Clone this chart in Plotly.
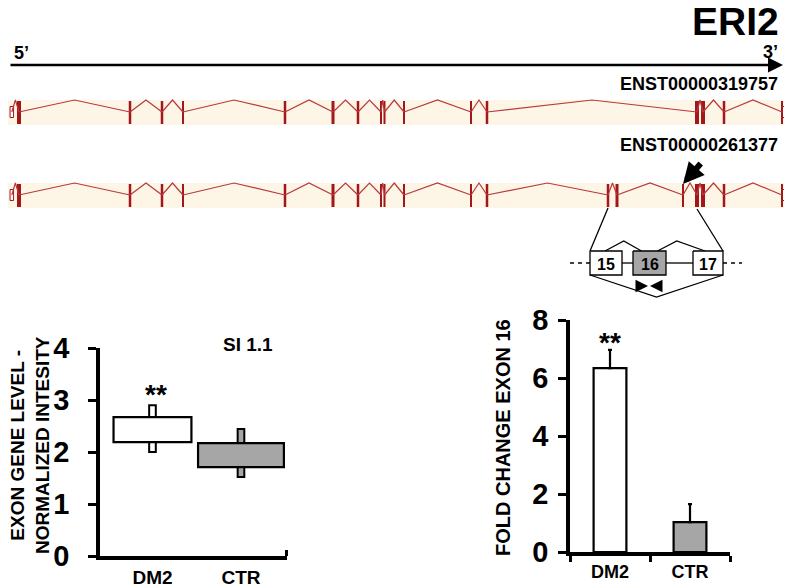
import plotly.graph_objects as go

REF_W, REF_H = 792, 587
OFF = 8                       # page body margin of the viewer
W, H = REF_W - OFF, REF_H - OFF
FONT = "Liberation Sans, Arial, Helvetica, sans-serif"

# ---------------- data ----------------
gene_name = "ERI2"
tx_names = ["ENST00000319757", "ENST00000261377"]

# exon positions along the gene (diagram units, 5' -> 3') and exon lengths
tx1_exon_pos = [11.8, 19, 130, 162, 183, 285, 333, 358, 381, 384.5, 404, 471, 487,
                697, 703, 724, 782, 784]
tx1_exon_len = [3.5, 4, 2.5, 2.5, 2, 2.5, 3, 2.5, 2, 2, 2, 2, 2.5,
                4, 4, 2.5, 1.5, 3]
tx1_exon_utr = [True] + [False] * 16 + [True]

tx2_exon_pos = [11.8, 19, 130, 162, 183, 285, 333, 358, 381, 384.5, 404, 471, 487,
                608, 617, 683, 697, 703, 724, 782, 784]
tx2_exon_len = [3.5, 4, 2.5, 2.5, 2, 2.5, 3, 2.5, 2, 2, 2, 2, 2.5,
                2.5, 3, 1.5, 4, 4, 2.5, 1.5, 3]
tx2_exon_utr = [True] + [False] * 19 + [True]

# inset: exons 15-16-17 of the alternative event
inset_labels = ["15", "16", "17"]
inset_box_left = [590, 633, 693]
inset_box_right = [622, 666, 723]
inset_box_skipped = [False, True, False]

# microarray exon level (SI 1.1)
groups = ["DM2", "CTR"]
si_box_low = [2.19, 1.71]
si_box_high = [2.67, 2.17]
si_whisker_low = [2.00, 1.52]
si_whisker_high = [2.90, 2.44]

# qPCR fold change exon 16
fold_mean = [6.34, 1.03]
fold_err = [0.63, 0.62]

# ---------------- styles ----------------
EXON_COL = "#A3171B"
INTRON_COL = "#B8393C"
BAND_COL = "#FDF5E6"
GREY = "#A6A6A6"

fig = go.Figure()

# ---------- gene diagram (axis x / y : diagram units) ----------
tracks = [
    (tx1_exon_pos, tx1_exon_len, tx1_exon_utr, 100, 125),
    (tx2_exon_pos, tx2_exon_len, tx2_exon_utr, 183, 208),
]
shapes = []
for pos, ln, utr, top, bot in tracks:
    mid = (top + bot) / 2 - 0.5
    shapes.append(dict(type="rect", xref="x", yref="y", x0=7, x1=787, y0=top, y1=bot,
                       fillcolor=BAND_COL, line_width=0, layer="below"))
    # introns
    ix, iy = [], []
    for i in range(len(pos) - 1):
        if pos[i + 1] - pos[i] < 2.5:
            continue
        ix += [pos[i], (pos[i] + pos[i + 1]) / 2, pos[i + 1], None]
        iy += [mid, top, mid, None]
    fig.add_trace(go.Scatter(x=ix, y=iy, mode="lines", line=dict(color=INTRON_COL, width=1.2),
                             hoverinfo="skip", showlegend=False))
    cx = [p for p, u in zip(pos, utr) if not u]
    cw = [w for w, u in zip(ln, utr) if not u]
    fig.add_trace(go.Bar(x=cx, y=[bot - top - 2] * len(cx), base=[top + 1] * len(cx), width=cw,
                         marker=dict(color=EXON_COL, line_width=0), showlegend=False,
                         hoverinfo="skip"))
    ux = [p for p, u in zip(pos, utr) if u]
    uw = [w for w, u in zip(ln, utr) if u]
    fig.add_trace(go.Bar(x=ux, y=[11] * len(ux), base=[mid - 5.5] * len(ux), width=uw,
                         marker=dict(color="white", line=dict(color=EXON_COL, width=1)),
                         showlegend=False, hoverinfo="skip"))

# zoom lines from transcript 2 to the inset
fig.add_trace(go.Scatter(x=[tx2_exon_pos[13], inset_box_left[0], None, tx2_exon_pos[16], inset_box_right[2]],
                         y=[208, 251, None, 209, 251], mode="lines",
                         line=dict(color="black", width=1.3), showlegend=False, hoverinfo="skip"))
# inset backbone
fig.add_trace(go.Scatter(x=[570, inset_box_left[0], None, inset_box_right[2], 742],
                         y=[263, 263, None, 263, 263], mode="lines",
                         line=dict(color="black", width=1.3, dash="4px,4px"), showlegend=False, hoverinfo="skip"))
fig.add_trace(go.Scatter(x=[inset_box_right[0], inset_box_left[1], None, inset_box_right[1], inset_box_left[2]],
                         y=[263, 263, None, 263, 263], mode="lines",
                         line=dict(color="black", width=1.3), showlegend=False, hoverinfo="skip"))
# splice junctions
c = [(l + r) / 2 for l, r in zip(inset_box_left, inset_box_right)]
fig.add_trace(go.Scatter(
    x=[c[0] - 1, (c[0] + c[1]) / 2 - 4, c[1] - 8, None, c[1] + 8, (c[1] + c[2]) / 2 - 2, c[2] - 3, None,
       inset_box_left[0], (inset_box_left[0] + inset_box_right[2]) / 2, inset_box_right[2]],
    y=[251, 241, 251, None, 251, 241, 251, None, 275, 297, 275],
    mode="lines", line=dict(color="black", width=1.3), showlegend=False, hoverinfo="skip"))
# inset boxes
for l, r, s, lab in zip(inset_box_left, inset_box_right, inset_box_skipped, inset_labels):
    fig.add_trace(go.Scatter(x=[l, r, r, l, l], y=[251, 251, 275, 275, 251], mode="lines",
                             fill="toself", fillcolor=GREY if s else "white",
                             line=dict(color="black", width=1.3), showlegend=False, hoverinfo="skip"))

# ---------- left chart: exon gene level ----------
xpos = [0, 1]
fig.add_trace(go.Bar(x=xpos, y=[h - l for l, h in zip(si_whisker_low, si_whisker_high)],
                     base=si_whisker_low, width=0.075,
                     marker=dict(color=["white", GREY], line=dict(color="black", width=2)),
                     xaxis="x2", yaxis="y2", showlegend=False, hoverinfo="skip"))
fig.add_trace(go.Bar(x=[0, 1.0], y=[h - l for l, h in zip(si_box_low, si_box_high)],
                     base=si_box_low, width=[0.88, 0.97],
                     marker=dict(color=["white", GREY], line=dict(color="black", width=2.2)),
                     xaxis="x2", yaxis="y2", showlegend=False, hoverinfo="skip"))

# ---------- right chart: fold change ----------
fig.add_trace(go.Bar(x=groups, y=fold_mean, width=0.41,
                     marker=dict(color=["white", GREY], line=dict(color="black", width=2.2)),
                     error_y=dict(type="data", array=fold_err, arrayminus=[0, 0], symmetric=False,
                                  color="black", thickness=2.2, width=2),
                     xaxis="x3", yaxis="y3", showlegend=False, hoverinfo="skip"))


def px(x):
    return (x - OFF) / W


def py(y):
    return 1 - (y - OFF) / H


def txt(text, x, y, size, xanchor="center", yanchor="middle", angle=0):
    return dict(text=text, x=px(x), y=py(y), xref="paper", yref="paper", xanchor=xanchor,
                yanchor=yanchor, textangle=angle, showarrow=False, align="center",
                font=dict(size=size, family=FONT, weight="bold", color="black"))


ann = []
ann.append(txt(gene_name, 781, 21, 39, xanchor="right"))
ann.append(txt("5’", 12, 53, 18, xanchor="left"))
ann.append(txt("3’", 780, 52, 18, xanchor="right"))
ann.append(txt(tx_names[0], 780, 84, 18, xanchor="right"))
ann.append(txt(tx_names[1], 780, 145, 18, xanchor="right"))
# 5' -> 3' arrow
ann.append(dict(x=783, y=65, ax=9, ay=65, xref="x", yref="y", axref="x", ayref="y", text="",
                showarrow=True, arrowhead=2, arrowsize=1.2, arrowwidth=2.5, arrowcolor="black"))
# pointer arrow to exon 16
ann.append(dict(x=683, y=184, ax=702, ay=162, xref="x", yref="y", axref="x", ayref="y", text="",
                showarrow=True, arrowhead=2, arrowsize=0.7, arrowwidth=6, arrowcolor="black"))
# primer arrows
ann.append(dict(x=648, y=286, ax=636, ay=286, xref="x", yref="y", axref="x", ayref="y", text="",
                showarrow=True, arrowhead=2, arrowsize=1, arrowwidth=2.5, arrowcolor="black"))
ann.append(dict(x=650, y=286, ax=662, ay=286, xref="x", yref="y", axref="x", ayref="y", text="",
                showarrow=True, arrowhead=2, arrowsize=1, arrowwidth=2.5, arrowcolor="black"))
# inset labels
for l, r, lab in zip(inset_box_left, inset_box_right, inset_labels):
    ann.append(dict(text=lab, x=(l + r) / 2, y=264, xref="x", yref="y", showarrow=False,
                    font=dict(size=16, family=FONT, weight="bold", color="black")))
# left chart annotations
ann.append(txt("SI 1.1", 248, 344, 19))
ann.append(dict(text="**", x=0.04, y=3.1, xref="x2", yref="y2", showarrow=False,
                font=dict(size=28, family=FONT, weight="bold", color="black")))
ann.append(txt("EXON GENE LEVEL -<br>NORMALIZED INTESITY", 30, 445, 19, angle=-90))
# right chart annotations
ann.append(dict(text="**", x="DM2", y=7.22, xref="x3", yref="y3", showarrow=False,
                font=dict(size=28, family=FONT, weight="bold", color="black")))
ann.append(txt("FOLD CHANGE EXON 16", 503, 438, 20, angle=-90))

axis_common = dict(showline=True, linecolor="black", linewidth=3.5, showgrid=False, zeroline=False,
                   ticks="outside", tickcolor="black", tickwidth=3, ticklen=8, automargin=False)

fig.update_layout(
    width=W, height=H, margin=dict(l=0, r=0, t=0, b=0, pad=0, autoexpand=False),
    paper_bgcolor="white", plot_bgcolor="rgba(0,0,0,0)",
    barmode="overlay", showlegend=False,
    font=dict(family=FONT, color="black"),
    shapes=shapes, annotations=ann,
    xaxis=dict(domain=[0, 1], range=[OFF, REF_W], visible=False, fixedrange=True, automargin=False),
    yaxis=dict(domain=[0, 1], range=[REF_H, OFF], visible=False, fixedrange=True, automargin=False),
    xaxis2=dict(domain=[px(100), px(287)], range=[-0.593, 1.52], anchor="y2", automargin=False,
                showline=True, linecolor="black", linewidth=3.5, showgrid=False, zeroline=False,
                tickvals=xpos, ticktext=groups, ticks="", ticklabelstandoff=1,
                minor=dict(tickvals=[1.515], ticks="inside", ticklen=6, tickwidth=3, tickcolor="black"),
                tickfont=dict(size=19, family=FONT, weight="bold", color="black")),
    yaxis2=dict(domain=[py(556), py(348)], range=[0, 4], anchor="x2",
                tickvals=[0, 1, 2, 3, 4], ticklabelstandoff=13,
                tickfont=dict(size=29, family=FONT, weight="bold", color="black"), **axis_common),
    xaxis3=dict(domain=[px(570), px(730)], range=[-0.5, 1.5], anchor="y3", type="category",
                tickson="boundaries", showline=True, linecolor="black", linewidth=3.5, showgrid=False,
                ticks="outside", tickcolor="black", tickwidth=3, ticklen=6, automargin=False,
                ticklabelstandoff=1,
                tickfont=dict(size=18, family=FONT, weight="bold", color="black")),
    yaxis3=dict(domain=[py(552), py(320)], range=[0, 8], anchor="x3",
                tickvals=[0, 2, 4, 6, 8], ticklabelstandoff=4,
                tickfont=dict(size=29, family=FONT, weight="bold", color="black"), **axis_common),
)

fig.write_html("out.html")
